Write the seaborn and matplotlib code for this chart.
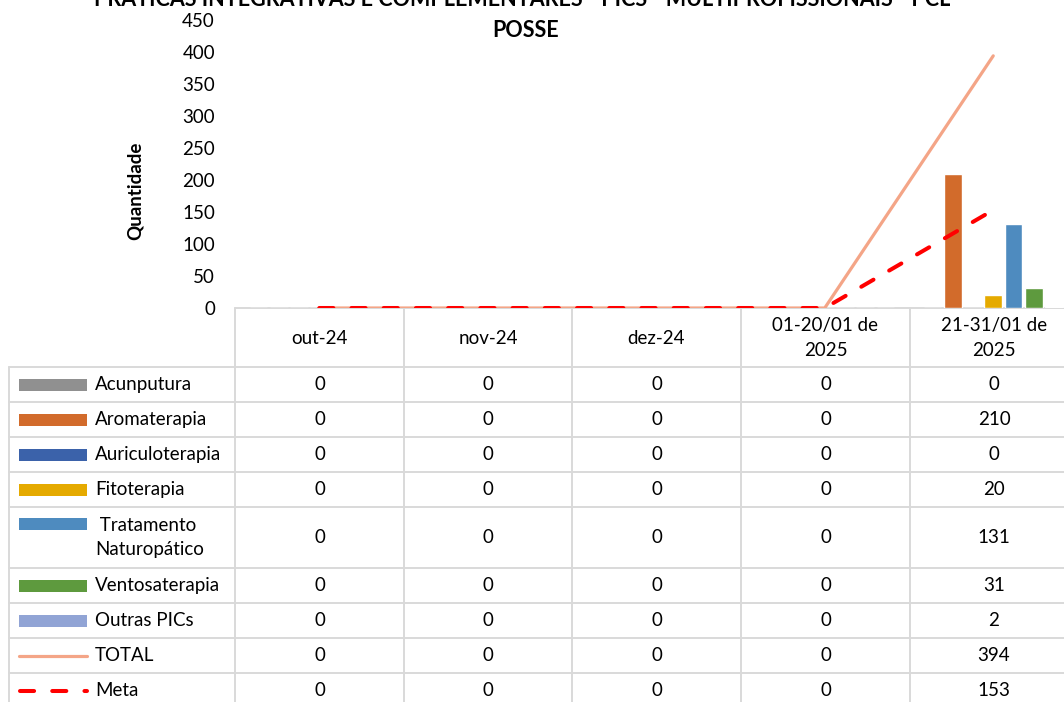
import numpy as np
import pandas as pd
import matplotlib
matplotlib.use("Agg")
import matplotlib.pyplot as plt
import seaborn as sns
from matplotlib.lines import Line2D
from matplotlib.patches import Rectangle

# ---------------- data ----------------
categories = ["out-24", "nov-24", "dez-24", "01-20/01 de\n2025", "21-31/01 de\n2025"]
acunputura = [0, 0, 0, 0, 0]
aromaterapia = [0, 0, 0, 0, 210]
auriculoterapia = [0, 0, 0, 0, 0]
fitoterapia = [0, 0, 0, 0, 20]
tratamento_naturopatico = [0, 0, 0, 0, 131]
ventosaterapia = [0, 0, 0, 0, 31]
outras_pics = [0, 0, 0, 0, 2]
total = [0, 0, 0, 0, 394]
meta = [0, 0, 0, 0, 153]
y_ticks = [0, 50, 100, 150, 200, 250, 300, 350, 400, 450]

bar_names = ["Acunputura", "Aromaterapia", "Auriculoterapia", "Fitoterapia",
             "Tratamento Naturopático", "Ventosaterapia", "Outras PICs"]
bar_values = [acunputura, aromaterapia, auriculoterapia, fitoterapia,
              tratamento_naturopatico, ventosaterapia, outras_pics]
bar_colors = ["#909090", "#D26B2B", "#3B62AA", "#E5AA00", "#4E8BBF", "#5E9A3E", "#91A4D5"]
total_color = "#F4A587"
meta_color = "#FF0000"

title = "PRÁTICAS INTEGRATIVAS E COMPLEMENTARES - PICS - MULTIPROFISSIONAIS - PCL-\nPOSSE"

# ---------------- style ----------------
sns.set_theme(style="white")
plt.rcParams["font.family"] = ["Lato", "DejaVu Sans"]
plt.rcParams["text.color"] = "black"

W, H = 1064, 702
fig = plt.figure(figsize=(W / 100, H / 100), dpi=100)
fig.patch.set_facecolor("white")

# table overlay axes in pixel coordinates
tab = fig.add_axes([0, 0, 1, 1], zorder=0)
tab.set_xlim(0, W)
tab.set_ylim(H, 0)
tab.axis("off")

# main chart axes (extends beyond the right edge like the reference crop)
ax_left, ax_right, ax_top, ax_bottom = 235, 1077.5, 20, 308
ax = fig.add_axes([ax_left / W, 1 - ax_bottom / H, (ax_right - ax_left) / W,
                   (ax_bottom - ax_top) / H], zorder=1)
ax.patch.set_alpha(0)

df = pd.DataFrame({
    "cat": np.repeat([categories], len(bar_names), axis=0).ravel(),
    "serie": np.repeat(bar_names, len(categories)),
    "val": np.concatenate(bar_values),
})
sns.barplot(data=df, x="cat", y="val", hue="serie", order=categories,
            hue_order=bar_names, palette=dict(zip(bar_names, bar_colors)),
            width=0.84, gap=0.12, saturation=1, legend=False, ax=ax)

xpos = np.arange(len(categories))
sns.lineplot(x=xpos, y=total, color=total_color, lw=2.3,
             solid_capstyle="round", ax=ax)
sns.lineplot(x=xpos, y=meta, color=meta_color, lw=2.9,
             linestyle=(0, (3.5, 4.5)), dash_capstyle="round", ax=ax)

ax.set_xlim(-0.5, len(categories) - 0.5)
ax.set_ylim(0, 450)
ax.set_yticks(y_ticks)
ax.set_yticklabels([str(v) for v in y_ticks])
ax.set_xticks([])
ax.set_xlabel("")
ax.set_ylabel("")
fs = 13.5
ax.tick_params(axis="y", length=0, pad=14.4, labelsize=fs, labelcolor="black")
for s in ax.spines.values():
    s.set_visible(False)

# title and axis label (first title line is cut at the top, as in the reference)
fig.text(526 / W, 1 - 37 / H, title, ha="center", va="baseline",
         fontsize=15.5, fontweight="bold", linespacing=1.58)
fig.text(135.5 / W, 1 - 191 / H, "Quantidade", rotation=90, ha="center",
         va="center", fontsize=fs, fontweight="bold")

# ---------------- data table ----------------
grid = "#D9D9D9"
glw = 1.4
col_edges = [235, 404, 572, 741, 910, 1078]
col_centers = [(a + b) / 2 for a, b in zip(col_edges[:-1], col_edges[1:])]
row_edges = [367, 402, 437, 472, 507, 568, 603, 638, 673, 708]

tab.add_line(Line2D([235, W], [308, 308], color=grid, lw=glw))
for y in row_edges[:-1]:
    tab.add_line(Line2D([9, W], [y, y], color=grid, lw=glw))
tab.add_line(Line2D([9, 9], [367, H], color=grid, lw=glw))
for x in col_edges[:-1]:
    tab.add_line(Line2D([x, x], [308, H], color=grid, lw=glw))

for cx, lab in zip(col_centers, categories):
    tab.text(cx, 338, lab, ha="center", va="center", fontsize=fs,
             linespacing=1.52)

row_labels = ["Acunputura", "Aromaterapia", "Auriculoterapia", "Fitoterapia",
              " Tratamento\nNaturopático", "Ventosaterapia", "Outras PICs",
              "TOTAL", "Meta"]
row_values = bar_values + [total, meta]
for i, (lab, vals) in enumerate(zip(row_labels, row_values)):
    y0, y1 = row_edges[i], row_edges[i + 1]
    yc = (y0 + y1) / 2
    key_y = yc if "\n" not in lab else y0 + 17
    tab.text(95, yc, lab, ha="left", va="center", fontsize=fs, linespacing=1.52)
    for cx, v in zip(col_centers, vals):
        tab.text(cx, yc, str(v), ha="center", va="center", fontsize=fs)
    if i < len(bar_colors):
        tab.add_patch(Rectangle((19, key_y - 6), 68, 12, color=bar_colors[i], lw=0))
    elif lab == "TOTAL":
        tab.add_line(Line2D([19, 87], [key_y, key_y], color=total_color, lw=2.3,
                            solid_capstyle="round"))
    else:
        tab.add_line(Line2D([20, 87], [key_y, key_y], color=meta_color, lw=2.9,
                            linestyle=(0, (3.5, 4.5)), dash_capstyle="round"))

fig.savefig("out.png", dpi=100, facecolor="white")
